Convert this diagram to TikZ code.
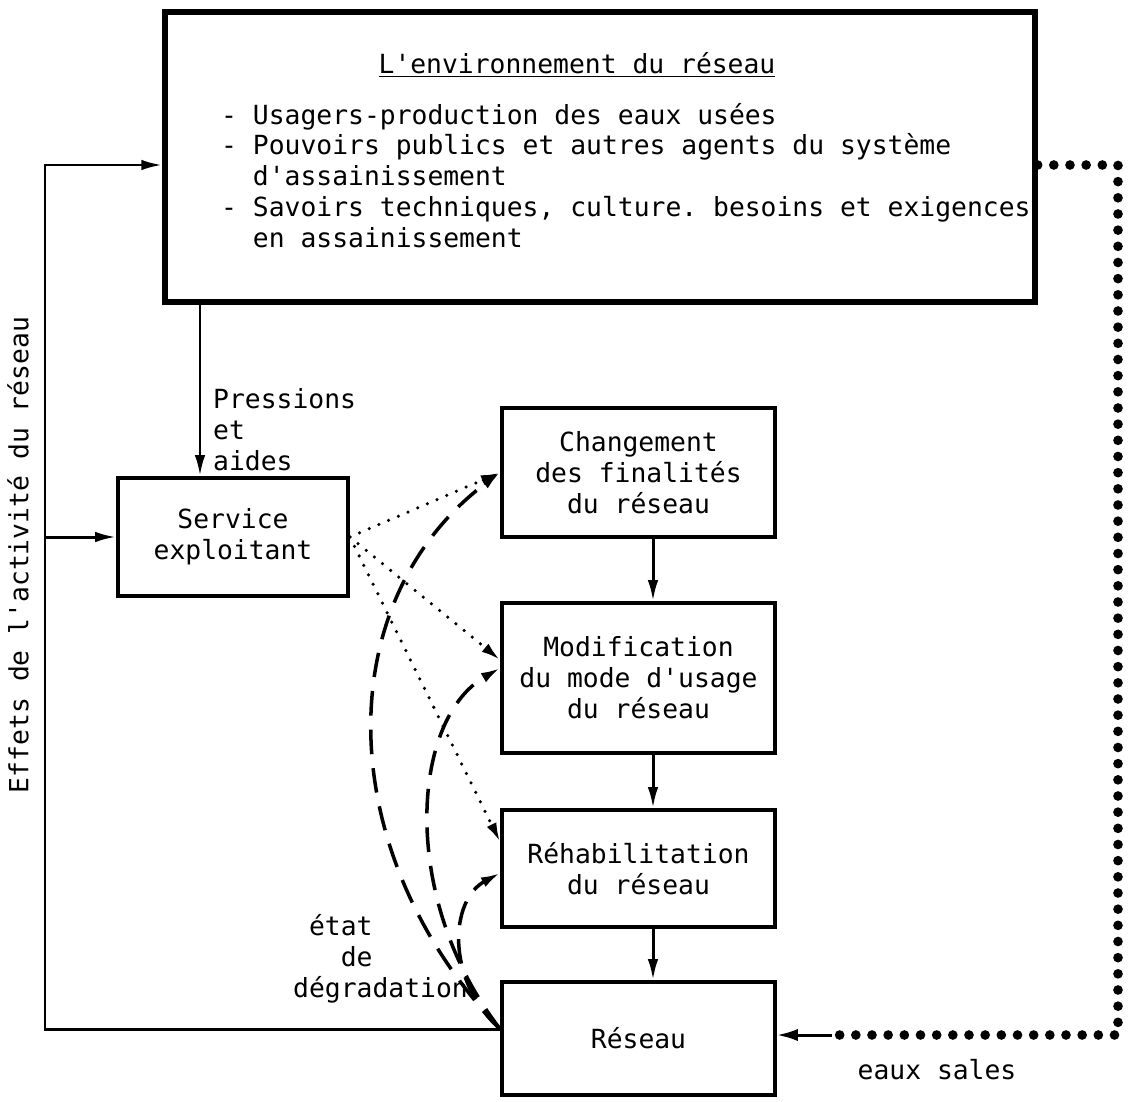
\documentclass[tikz,border=0pt]{standalone}
\usepackage{fontspec}
\setmonofont{DejaVu Sans Mono}
\usetikzlibrary{arrows.meta, positioning}

\begin{document}
\begin{tikzpicture}[
		every node/.style={font=\ttfamily\fontsize{15}{17.6}\selectfont},
		boite/.style={draw, line width=2.1pt, align=center, minimum width=5.46cm},
		fleche/.style={line width=1.7pt, -{Latex[length=12pt,width=6pt]}},
		pointille/.style={line width=2pt, line cap=round, dash pattern=on 0pt off 6pt, -{Latex[length=11pt,width=6pt]}},
		tirets/.style={line width=2pt, dash pattern=on 14pt off 8pt, -{Latex[length=11pt,width=6pt]}},
		gros points/.style={line width=5.5pt, line cap=round, dash pattern=on 0pt off 9.2pt}
	]
	\useasboundingbox (0,0) rectangle (22.8,-22.02);

	% environnement
	\node[draw, line width=3pt, minimum width=17.4cm, minimum height=5.8cm] (env) at (12.0,-3.14) {};
	\node (titre) at (11.54,-1.3) {\underline{L'environnement du réseau}};
	\node[anchor=west, align=left] (liste) at (4.3,-3.51) {- Usagers-production des eaux usées\\
		- Pouvoirs publics et autres agents du système\\
		\ \ d'assainissement\\
		- Savoirs techniques, culture. besoins et exigences\\
		\ \ en assainissement};

	\node[boite, minimum width=4.6cm, minimum height=2.36cm] (svc) at (4.66,-10.74) {Service\\exploitant};
	\node[boite, minimum height=2.58cm] (chg) at (12.77,-9.45) {Changement\\des finalités\\du réseau};
	\node[boite, minimum height=3.0cm] (mod) at (12.77,-13.56) {Modification\\du mode d'usage\\du réseau};
	\node[boite, minimum height=2.34cm] (reh) at (12.77,-17.37) {Réhabilitation\\du réseau};
	\node[boite, minimum height=2.26cm] (res) at (12.77,-20.77) {Réseau};

	% chaine verticale
	\foreach \a/\b in {chg/mod, mod/reh, reh/res}
		\draw[fleche] ([xshift=0.29cm]\a.south) -- ([xshift=0.29cm]\b.north);

	% pressions et aides
	\draw[fleche] ([xshift=-0.66cm]svc.north |- env.south) -- ([xshift=-0.66cm]svc.north);
	\node[anchor=west, align=left] (pression) at (4.14,-8.6) {Pressions\\et\\aides};

	% effets de l'activite du reseau
	\coordinate (degr) at ([yshift=0.19cm]res.west);
	\coordinate (coin) at (0.9,-20.58);
	\draw[fleche] (degr) -- (coin) |- ([yshift=-0.16cm]env.west);
	\draw[fleche] (coin |- svc.west) -- (svc.west);
	\node[rotate=90] (effets) at (0.36,-11.1) {Effets de l'activité du réseau};

	% service -> actions
	\draw[pointille] (svc.east) -- (chg.west);
	\draw[pointille] (svc.east) -- ([yshift=0.36cm]mod.west);
	\draw[pointille] (svc.east) -- ([yshift=0.53cm]reh.west);

	% etat de degradation
	\draw[tirets] (degr) .. controls (6.6,-17) and (6.6,-12) .. (chg.west);
	\draw[tirets] (degr) .. controls (8.0,-18) and (8.2,-14.4) .. ([yshift=0.2cm]mod.west);
	\draw[tirets] (degr) .. controls (8.9,-19.6) and (9.0,-18) .. ([yshift=-0.09cm]reh.west);
	\node[anchor=west, align=left] (etat) at (5.74,-19.18) {\ état\\\ \ \ de\\dégradation};

	% eaux sales
	\coordinate (droite) at (22.36,-3.3);
	\draw[gros points] ([yshift=-0.16cm]env.east) -- (droite) |- ([xshift=1.1cm,yshift=0.07cm]res.east);
	\draw[line width=1.7pt, -{Latex[length=12pt,width=7pt]}] ([xshift=1.1cm,yshift=0.07cm]res.east) -- ([yshift=0.07cm]res.east);
	\node (sales) at (18.74,-21.4) {eaux sales};
\end{tikzpicture}
\end{document}
